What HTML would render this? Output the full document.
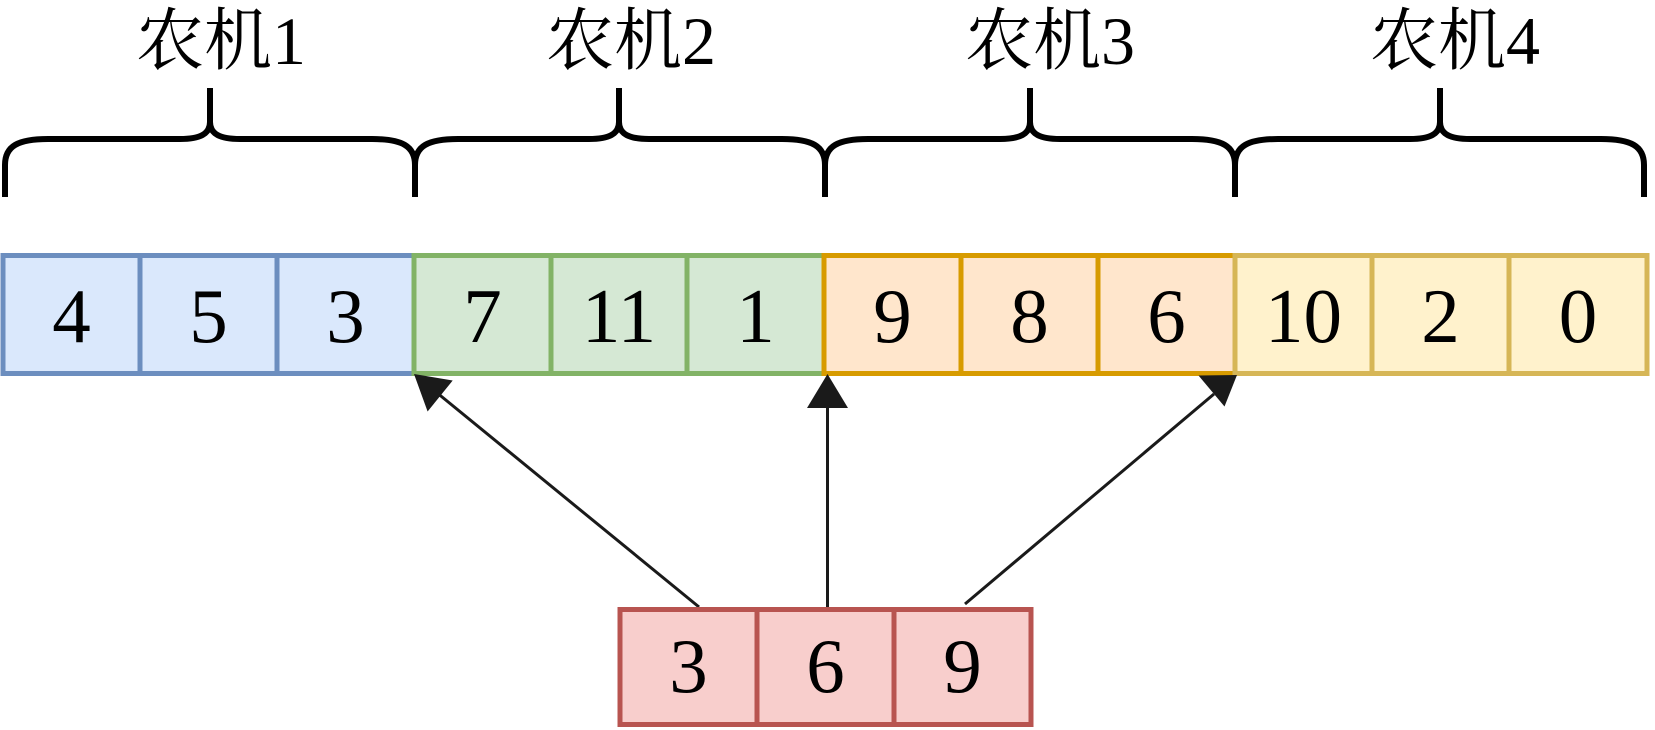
<!DOCTYPE html>
<html>
<head>
<meta charset="utf-8">
<style>
  html, body { margin: 0; padding: 0; background: #ffffff; }
  body { width: 1655px; height: 730px; overflow: hidden; }
  svg { display: block; }
  .lbl { font-family: "Liberation Serif", "Noto Serif CJK SC", serif; font-size: 68px; fill: #000; }
  .num { font-family: "Liberation Serif", serif; font-size: 77px; fill: #000; }
</style>
</head>
<body>
<svg width="1655" height="730" viewBox="0 0 1655 730" xmlns="http://www.w3.org/2000/svg">
  <!-- Labels -->
  <text class="lbl" x="221" y="64" text-anchor="middle">农机1</text>
  <text class="lbl" x="631" y="64" text-anchor="middle">农机2</text>
  <text class="lbl" x="1050" y="64" text-anchor="middle">农机3</text>
  <text class="lbl" x="1455" y="64" text-anchor="middle">农机4</text>

  <!-- Braces -->
  <g fill="none" stroke="#000" stroke-width="6" stroke-linejoin="round">
    <path d="M5,197 L5,165 C5,146 18,139 48,139 L180,139 C200,139 210,134 210,122 L210,88 M210,122 C210,134 220,139 240,139 L372,139 C402,139 415,146 415,165 L415,197"/>
    <path d="M415,197 L415,165 C415,146 428,139 458,139 L589,139 C609,139 619,134 619,122 L619,88 M619,122 C619,134 629,139 649,139 L782,139 C812,139 825,146 825,165 L825,197"/>
    <path d="M825,197 L825,165 C825,146 838,139 868,139 L1000,139 C1020,139 1030,134 1030,122 L1030,88 M1030,122 C1030,134 1040,139 1060,139 L1192,139 C1222,139 1235,146 1235,165 L1235,197"/>
    <path d="M1235,197 L1235,165 C1235,146 1248,139 1278,139 L1410,139 C1430,139 1440,134 1440,122 L1440,88 M1440,122 C1440,134 1450,139 1470,139 L1601,139 C1631,139 1644,146 1644,165 L1644,197"/>
  </g>

  <!-- Top row cells -->
  <g stroke-width="5">
    <rect x="3" y="255.5" width="137" height="118" fill="#dae8fc" stroke="#6c8ebf"/>
    <rect x="140" y="255.5" width="137" height="118" fill="#dae8fc" stroke="#6c8ebf"/>
    <rect x="277" y="255.5" width="137" height="118" fill="#dae8fc" stroke="#6c8ebf"/>

    <rect x="414" y="255.5" width="137" height="118" fill="#d5e8d4" stroke="#82b366"/>
    <rect x="551" y="255.5" width="136" height="118" fill="#d5e8d4" stroke="#82b366"/>
    <rect x="687" y="255.5" width="137" height="118" fill="#d5e8d4" stroke="#82b366"/>

    <rect x="824" y="255.5" width="137" height="118" fill="#ffe6cc" stroke="#d79b00"/>
    <rect x="961" y="255.5" width="137" height="118" fill="#ffe6cc" stroke="#d79b00"/>
    <rect x="1098" y="255.5" width="137" height="118" fill="#ffe6cc" stroke="#d79b00"/>

    <rect x="1235" y="255.5" width="137" height="118" fill="#fff2cc" stroke="#d6b656"/>
    <rect x="1372" y="255.5" width="137" height="118" fill="#fff2cc" stroke="#d6b656"/>
    <rect x="1509" y="255.5" width="138" height="118" fill="#fff2cc" stroke="#d6b656"/>
  </g>

  <!-- Top row numbers -->
  <g class="num" text-anchor="middle">
    <text class="num" x="71.5" y="342" text-anchor="middle">4</text>
    <text class="num" x="208.5" y="342" text-anchor="middle">5</text>
    <text class="num" x="345.5" y="342" text-anchor="middle">3</text>
    <text class="num" x="482.5" y="342" text-anchor="middle">7</text>
    <text class="num" x="619" y="342" text-anchor="middle">11</text>
    <text class="num" x="755.5" y="342" text-anchor="middle">1</text>
    <text class="num" x="892.5" y="342" text-anchor="middle">9</text>
    <text class="num" x="1029.5" y="342" text-anchor="middle">8</text>
    <text class="num" x="1166.5" y="342" text-anchor="middle">6</text>
    <text class="num" x="1303.5" y="342" text-anchor="middle">10</text>
    <text class="num" x="1440.5" y="342" text-anchor="middle">2</text>
    <text class="num" x="1578" y="342" text-anchor="middle">0</text>
  </g>

  <!-- Arrows -->
  <g stroke="#1a1a1a" stroke-width="3" fill="none">
    <line x1="699" y1="607" x2="436" y2="392"/>
    <line x1="827.5" y1="607" x2="827.5" y2="404"/>
    <line x1="965" y1="604" x2="1214" y2="394"/>
  </g>
  <g fill="#1a1a1a">
    <polygon points="414,374 452.7,380.5 427.6,411.5"/>
    <polygon points="827.5,374 848,408 807,408"/>
    <polygon points="1237,375 1224.5,406.5 1198.5,375.5"/>
  </g>

  <!-- Bottom row -->
  <g stroke-width="5" fill="#f8cecc" stroke="#b85450">
    <rect x="620" y="609.5" width="137" height="115"/>
    <rect x="757" y="609.5" width="137" height="115"/>
    <rect x="894" y="609.5" width="137" height="115"/>
  </g>
  <text class="num" x="688.5" y="692" text-anchor="middle">3</text>
  <text class="num" x="825.5" y="692" text-anchor="middle">6</text>
  <text class="num" x="962.5" y="692" text-anchor="middle">9</text>
</svg>
</body>
</html>
